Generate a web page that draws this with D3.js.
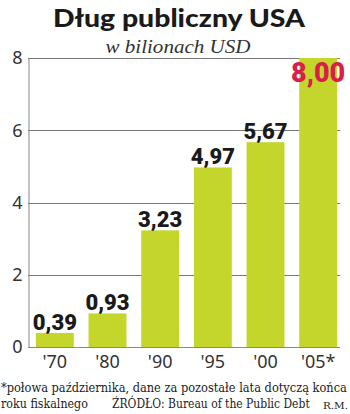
<!DOCTYPE html>
<html>
<head>
<meta charset="utf-8">
<script src="https://cdn.jsdelivr.net/npm/d3@7"></script>
<style>
  body { margin: 0; background: #fff; }
</style>
</head>
<body>
<div id="chart"></div>
<script>
// data
var years = ["'70", "'80", "'90", "'95", "'00", "'05*"];
var debt = [0.39, 0.93, 3.23, 4.97, 5.67, 8.00];
var yTicks = [0, 2, 4, 6, 8];

var svgWidth = 350;
var svgHeight = 414;

var svg = d3.select("#chart")
  .append("svg")
  .attr("width", svgWidth)
  .attr("height", svgHeight);

var plotLeft = 28, plotRight = 340;
var plotTop = 58, plotBottom = 347;

var x = d3.scaleBand()
  .domain(years)
  .range([28.5, 344.5])
  .paddingInner(0.28)
  .paddingOuter(0.14);

var y = d3.scaleLinear()
  .domain([0, 8])
  .range([plotBottom, plotTop]);

var fmt = function(v) { return d3.format(".2f")(v).replace(".", ","); };

// squeeze a text horizontally so it spans the given width
function fitText(sel, x0, y0, w) {
  var natural = sel.node().getComputedTextLength();
  var sx = w / natural;
  sel.attr("transform", `translate(${x0}, ${y0}) scale(${sx}, 1)`);
  return sel;
}

// title
svg.append("text")
  .attr("x", 179)
  .attr("y", 27)
  .attr("text-anchor", "middle")
  .style("font-family", "Lato, Roboto, sans-serif")
  .style("font-weight", 900)
  .style("font-size", "24px")
  .attr("textLength", 252)
  .attr("lengthAdjust", "spacingAndGlyphs")
  .attr("fill", "#1a1a1a")
  .text("Dług publiczny USA");

svg.append("text")
  .attr("x", 178)
  .attr("y", 53)
  .attr("text-anchor", "middle")
  .style("font-family", "'Liberation Serif', serif")
  .style("font-style", "italic")
  .style("font-size", "19px")
  .attr("textLength", 145)
  .attr("lengthAdjust", "spacingAndGlyphs")
  .attr("fill", "#333")
  .text("w bilionach USD");

// grid lines (behind bars)
svg.append("g")
  .selectAll("line")
  .data(yTicks.filter(d => d > 0))
  .enter()
  .append("line")
  .attr("x1", plotLeft)
  .attr("x2", plotRight)
  .attr("y1", d => Math.round(y(d)) + 0.5)
  .attr("y2", d => Math.round(y(d)) + 0.5)
  .attr("stroke", "#777")
  .attr("stroke-width", 1);

// left axis
var leftAxis = d3.axisLeft(y).tickValues(yTicks).tickSize(0).tickPadding(6);
var yAxis = svg.append("g")
  .attr("transform", `translate(${plotLeft + 0.5}, 0)`)
  .call(leftAxis);
yAxis.select(".domain").attr("stroke", "#888");
yAxis.selectAll("text")
  .style("font-family", "'Noto Sans', sans-serif")
  .style("font-size", "18px")
  .attr("fill", "#333");

// bars
svg.append("g")
  .selectAll("rect")
  .data(debt)
  .enter()
  .append("rect")
  .attr("x", (d, i) => x(years[i]))
  .attr("width", x.bandwidth())
  .attr("y", d => y(d))
  .attr("height", d => y(0) - y(d))
  .attr("fill", "#c4d62c");

// baseline
svg.append("line")
  .attr("x1", plotLeft)
  .attr("x2", plotRight)
  .attr("y1", plotBottom + 0.5)
  .attr("y2", plotBottom + 0.5)
  .attr("stroke", "#888");

// bottom axis labels
var bottomAxis = d3.axisBottom(x).tickSize(0).tickPadding(8);
var xAxis = svg.append("g")
  .attr("transform", `translate(0, ${plotBottom})`)
  .call(bottomAxis);
xAxis.select(".domain").remove();
xAxis.selectAll("text")
  .style("font-family", "'Noto Sans', sans-serif")
  .style("font-size", "18px")
  .attr("fill", "#333");

// value labels
var last = debt.length - 1;
svg.append("g")
  .selectAll("text")
  .data(debt)
  .enter()
  .append("text")
  .attr("x", (d, i) => x(years[i]) + x.bandwidth() / 2)
  .attr("y", (d, i) => i === last ? y(d) + 24 : y(d) - 3)
  .attr("text-anchor", "middle")
  .style("font-family", "Roboto, sans-serif")
  .style("font-weight", 900)
  .style("font-size", (d, i) => i === last ? "27px" : "22px")
  .attr("fill", (d, i) => i === last ? "#d81f4a" : "#1a1a1a")
  .text(d => fmt(d));

// footnotes
var foot = svg.append("g")
  .style("font-family", "'DejaVu Serif', serif")
  .style("font-size", "13px")
  .attr("fill", "#222");

fitText(foot.append("text")
  .text("*połowa października, dane za pozostałe lata dotyczą końca"), 1, 392, 346);

fitText(foot.append("text")
  .text("roku fiskalnego"), 1, 408, 87);

fitText(foot.append("text")
  .text("ŹRÓDŁO: Bureau of the Public Debt"), 112, 408, 198);

fitText(foot.append("text")
  .style("font-size", "10px")
  .text("R.M."), 323, 409, 25);
</script>
</body>
</html>
